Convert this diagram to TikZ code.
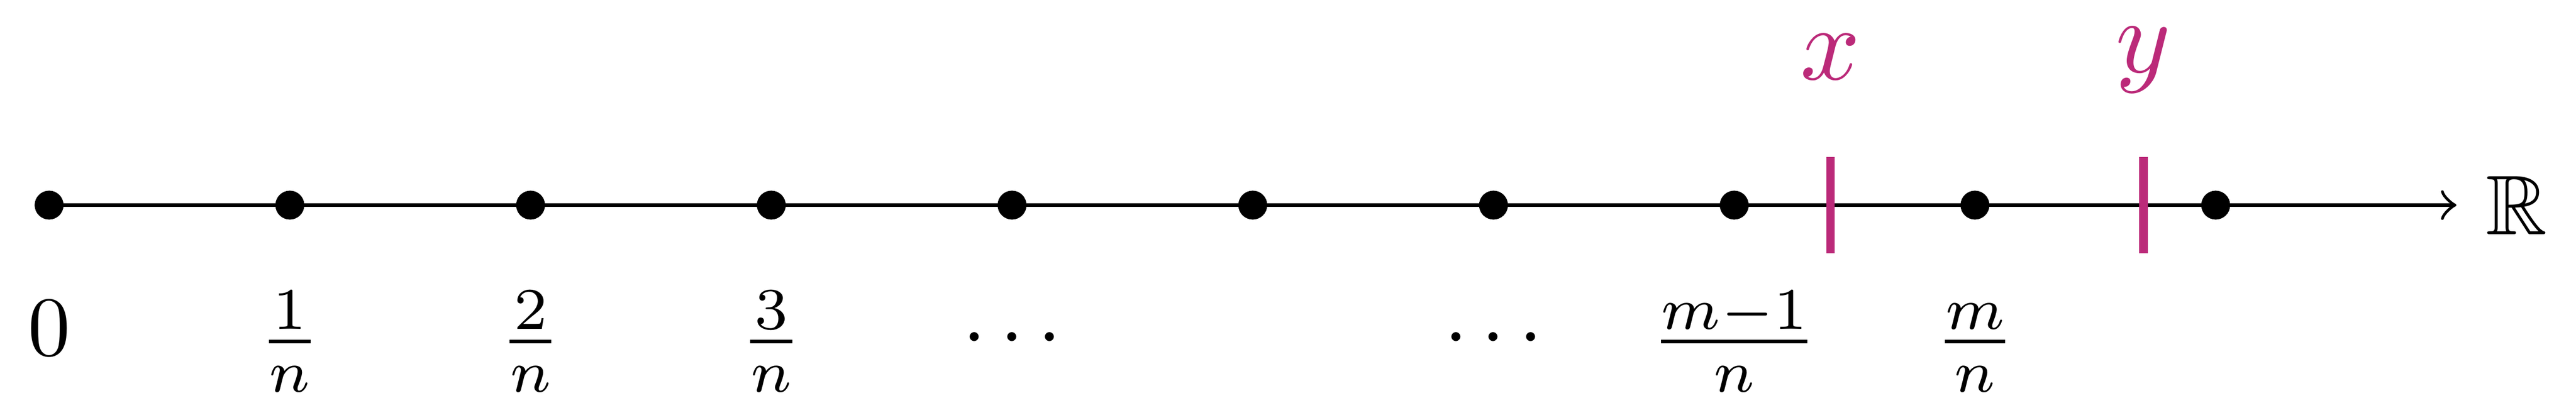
\documentclass[tikz,border=0pt]{standalone}
\usepackage{amssymb}
\definecolor{mag}{RGB}{187,42,121}
\begin{document}
\begin{tikzpicture}[
  dotnode/.style={circle,fill=black,inner sep=0pt,minimum size=3.4pt},
  tickline/.style={draw=mag,line width=1pt},
  lab/.style={anchor=base,inner sep=0pt},
  maglab/.style={anchor=base,inner sep=0pt,text=mag,scale=1.24}]
\useasboundingbox (-0.204,-0.893) rectangle (10.497,0.853);
% points
\foreach \i in {0,...,9} {\node[dotnode] (d\i) at (\i,0) {};}
\coordinate (end) at (10,0);
\draw[->] (d0.center) -- (end);
\foreach \i in {0,...,9} {\fill (d\i.center) circle (1.7pt);}
% ticks
\coordinate (xa) at (7.4,-0.2); \coordinate (xb) at (7.4,0.2);
\coordinate (ya) at (8.7,-0.2); \coordinate (yb) at (8.7,0.2);
\draw[tickline] (xa) -- (xb);
\draw[tickline] (ya) -- (yb);
% labels
\node[maglab] (lx) at (7.4,0.523) {$x$};
\node[maglab] (ly) at (8.7,0.553) {$y$};
\node[right] (lR) at (end) {$\mathbb{R}$};
\node[lab] (l0) at (0,-0.625) {$0$};
\node[lab] (l1) at (1,-0.655) {$\frac{1}{n}$};
\node[lab] (l2) at (2,-0.655) {$\frac{2}{n}$};
\node[lab] (l3) at (3,-0.655) {$\frac{3}{n}$};
\node[lab] (l4) at (4,-0.636) {$\cdots$};
\node[lab] (l6) at (6,-0.636) {$\cdots$};
\node[lab] (l7) at (7,-0.655) {$\frac{m-1}{n}$};
\node[lab] (l8) at (8,-0.655) {$\frac{m}{n}$};
\end{tikzpicture}
\end{document}
